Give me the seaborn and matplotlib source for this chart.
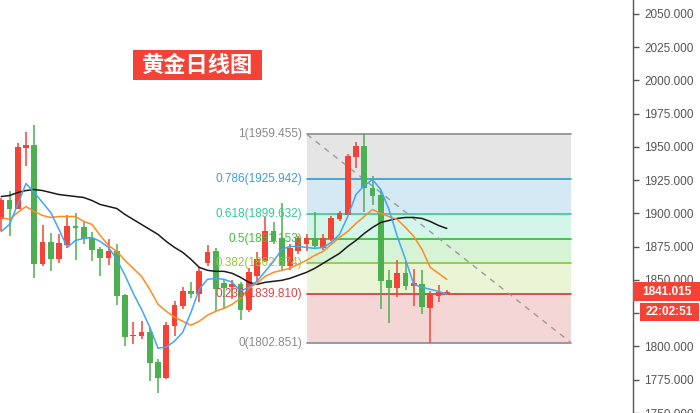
import numpy as np
import pandas as pd
import matplotlib
matplotlib.use('Agg')
import matplotlib.pyplot as plt
import seaborn as sns
from matplotlib.patches import Rectangle
from matplotlib.transforms import blended_transform_factory

# ---------------- data ----------------
opens = [1895.5, 1910.5, 1903, 1949.5, 1951.75, 1861.75, 1878.25, 1865.5, 1876, 1890.25,
         1889.5, 1881.25, 1873, 1866.25, 1871.5, 1838.5, 1807.75, 1807.75, 1810.75, 1788.25,
         1776.25, 1815.25, 1830.25, 1841.5, 1839.25, 1862.5, 1871.5, 1847.5, 1844.5, 1846.75,
         1827.25, 1852.75, 1864, 1886.5, 1881.25, 1860.25, 1871.5, 1876.75, 1881.25, 1873.75,
         1880.5, 1895.5, 1898.5, 1942.75, 1951, 1919.5, 1914.25, 1849.75, 1843.75, 1855,
         1845.25, 1846.75, 1828.75, 1837.75, 1840]
closes = [1910.5, 1903, 1950.25, 1951.75, 1861.75, 1878.25, 1865.5, 1877.5, 1890.25, 1888.75,
          1880.5, 1872.25, 1866.25, 1871.5, 1837.75, 1807, 1808.5, 1810.75, 1787.5, 1776.25,
          1816, 1831, 1841.5, 1839.25, 1856.5, 1870.75, 1843, 1843.75, 1846.75, 1827.25,
          1855.75, 1865.5, 1886.5, 1879, 1860.25, 1873.75, 1881.25, 1881.25, 1875.25, 1881.25,
          1896.25, 1900, 1943.5, 1951, 1919.5, 1913.5, 1849, 1843.75, 1855, 1845.25,
          1847.5, 1829.5, 1838.5, 1840.75, 1841.015]
highs = [1912, 1917.25, 1953.25, 1961.5, 1966.75, 1891, 1885, 1884.25, 1898.5, 1900,
         1893.25, 1885.75, 1874.5, 1880.5, 1876.75, 1839.25, 1818.25, 1819, 1814.5, 1790.5,
         1818.25, 1834, 1844.5, 1848.25, 1859.5, 1876, 1873.75, 1849.75, 1849.75, 1848.25,
         1858.75, 1870.75, 1897, 1893.25, 1908.25, 1876.75, 1882.75, 1884.25, 1900.75, 1884.25,
         1897.75, 1901.5, 1945, 1954, 1959.455, 1928.5, 1918, 1857.25, 1864.75, 1864,
         1858, 1857.25, 1841.5, 1846, 1842.25]
lows = [1886.5, 1882.75, 1903, 1936, 1851.25, 1860.25, 1856.5, 1862.5, 1873.75, 1864.75,
        1876.75, 1864, 1852.75, 1861, 1831, 1800.25, 1801.75, 1805.5, 1774, 1765,
        1775.5, 1807.75, 1828, 1836.25, 1833.25, 1860.25, 1826.5, 1828, 1835.5, 1819.75,
        1825.75, 1848.25, 1863.25, 1876.75, 1856.5, 1857.25, 1869.25, 1871.5, 1873.75, 1872.25,
        1879, 1894, 1898.5, 1934.5, 1900.75, 1906.75, 1828, 1817.5, 1837, 1842.25,
        1830.25, 1824.25, 1802.851, 1833.25, 1839.25]

ma5 = [1886.5, 1891.75, 1906.75, 1922.5, 1915.75, 1908.25, 1900.75, 1888, 1874.5, 1879.75,
       1881.25, 1882, 1879, 1874.5, 1865.5, 1853.5, 1840, 1828, 1814.5, 1798.75,
       1799.5, 1804, 1810.75, 1825.75, 1843, 1850.5, 1851.25, 1850.5, 1848.25, 1841.5,
       1844.5, 1849, 1856.5, 1864, 1873, 1875.25, 1875.25, 1874.5, 1873.75, 1874.5,
       1878.25, 1884.25, 1897.75, 1914.25, 1921, 1925.5, 1918, 1903, 1882.75, 1865.5,
       1846.75, 1844.5, 1843, 1841.5, 1839.25]
ma10 = [1897, 1895.5, 1900.75, 1905.25, 1901.5, 1898.5, 1897, 1897.75, 1897.75, 1897.75,
        1894, 1891.75, 1883.5, 1876, 1871.5, 1864.75, 1858.75, 1852.75, 1843, 1831.75,
        1826.5, 1822, 1819, 1816, 1819, 1823.5, 1826.5, 1828.75, 1831.75, 1836.25,
        1843.75, 1847.5, 1852.75, 1855.75, 1857.25, 1858.75, 1861.75, 1864.75, 1868.5, 1871.5,
        1876.75, 1882, 1886.5, 1892.5, 1897.75, 1903, 1900, 1897.75, 1895.5, 1889.5,
        1882.75, 1873, 1859.5, 1855, 1850.5]
ma20 = [1912.75, 1913.5, 1915.75, 1917.25, 1918, 1917.25, 1915.75, 1914.25, 1913.5, 1912.75,
        1912, 1909.75, 1906.75, 1905.25, 1903.75, 1899.25, 1895.5, 1891.75, 1888, 1884.25,
        1879, 1874.5, 1870.75, 1865.5, 1859.5, 1857.25, 1856.5, 1856.5, 1855, 1852,
        1848.25, 1846.75, 1848.25, 1849, 1849.75, 1851.25, 1853.5, 1855.75, 1858.75, 1862.5,
        1866.25, 1870, 1875.25, 1879.75, 1885, 1889.5, 1893.25, 1894.75, 1896.25, 1897,
        1897, 1896.25, 1894, 1891, 1888.75]

fib_ratios = ['1', '0.786', '0.618', '0.5', '0.382', '0.236', '0']
fib_prices = [1959.455, 1925.942, 1899.632, 1881.153, 1862.674, 1839.810, 1802.851]
y_ticks = [1750, 1775, 1800, 1825, 1850, 1875, 1900, 1925, 1950, 1975, 2000, 2025, 2050]
hidden_tick_labels = [1825]   # covered by the countdown box in the reference
last_price = 1841.015
countdown = '22:02:51'
title = '黄金日线图'

# ---------------- style ----------------
UP = '#f44336'
DOWN = '#4caf50'
fib_line_colors = ['#8a8a8a', '#2a9ad8', '#2ccf94', '#2bbd2b', '#8cc43e', '#d43434', '#8a8a8a']
fib_text_colors = ['#8a8a8a', '#3d9fd6', '#33c996', '#3dbf3d', '#9cc53c', '#d94444', '#8a8a8a']
fib_fill_colors = ['#e5e5e5', '#d5e9f5', '#d4f5ea', '#d6f3d5', '#eaf5d6', '#f5d6d6']

sns.set_theme(style='white')
plt.rcParams['font.family'] = ['Liberation Sans', 'DejaVu Sans']

fig = plt.figure(figsize=(7, 4.13), dpi=100)
ax = fig.add_axes([0, 0, 633 / 700, 1])

n = len(opens)
idx = np.arange(n)
df = pd.DataFrame({'i': idx, 'open': opens, 'close': closes, 'high': highs, 'low': lows,
                   'ma5': ma5, 'ma10': ma10, 'ma20': ma20})

# fib anchors (positions in bar units)
fx0, fx1 = 37.06, 69.06

# fib zones
for k in range(len(fib_prices) - 1):
    ax.fill_between([fx0, fx1], fib_prices[k + 1], fib_prices[k],
                    color=fib_fill_colors[k], lw=0, zorder=0.5)
for k, (r, p) in enumerate(zip(fib_ratios, fib_prices)):
    ax.plot([fx0, fx1], [p, p], color=fib_line_colors[k], lw=1.2, zorder=0.8)
    ax.annotate(f'{r}({p:.3f})', xy=(fx0, p), xytext=(-5, 0), textcoords='offset pixels',
                ha='right', va='center', fontsize=8.5, color=fib_text_colors[k], zorder=5)
ax.plot([fx0, fx1], [fib_prices[0], fib_prices[-1]], color='#9a9a9a', lw=1,
        ls=(0, (4, 4)), zorder=0.9)

# candles
colors = [UP if c >= o else DOWN for o, c in zip(opens, closes)]
ax.vlines(idx, df['low'], df['high'], colors=colors, lw=1.1, zorder=2)
bottoms = np.minimum(df['open'], df['close'])
heights = np.maximum(np.abs(df['close'] - df['open']), 0.7)
ax.bar(idx, heights, bottom=bottoms, width=0.68, color=colors, lw=0, zorder=3)

# moving averages
sns.lineplot(data=df, x='i', y='ma20', color='#1a1a1a', lw=1.1, ax=ax, zorder=4)
sns.lineplot(data=df, x='i', y='ma10', color='#ff8a1f', lw=1.1, ax=ax, zorder=4)
sns.lineplot(data=df, x='i', y='ma5', color='#42a5f5', lw=1.1, ax=ax, zorder=4)

# axes
ax.set_xlim(-1.25 / 8.25, (633 - 1.25) / 8.25)
ax.set_ylim(1750.75, 2060.5)
ax.set_xlabel('')
ax.set_ylabel('')
ax.set_xticks([])
ax.yaxis.tick_right()
ax.set_yticks(y_ticks)
ax.set_yticklabels(['' if v in hidden_tick_labels else f'{v:.3f}' for v in y_ticks])
ax.tick_params(axis='y', direction='out', length=4, width=1, color='#555555', pad=4,
               labelsize=8.5, labelcolor='#555555', right=True, left=False)
for s in ['top', 'left', 'bottom']:
    ax.spines[s].set_visible(False)
ax.spines['right'].set_color('#555555')
ax.spines['right'].set_linewidth(1)
ax.set_facecolor('white')

# title box
fig.add_artist(Rectangle((133 / 700, 1 - 80 / 413), 129 / 700, 30 / 413,
                         transform=fig.transFigure, color='#f44336', lw=0))
fig.text(197.5 / 700, 1 - 65.5 / 413, title, fontsize=16, fontweight='bold', color='white',
         family=['Noto Sans CJK SC', 'DejaVu Sans'], ha='center', va='center')

# last price box
bt = blended_transform_factory(fig.transFigure, ax.transData)
fig.add_artist(Rectangle((633 / 700, last_price - 7.1), 67 / 700, 14.2, transform=bt,
                         color='#f44336', lw=0, zorder=6))
fig.text(667 / 700, last_price, f'{last_price:.3f}', transform=bt, fontsize=8.5,
         fontweight='bold', color='white', ha='center', va='center', zorder=7)
fig.add_artist(Rectangle((640 / 700, 1 - 321 / 413), 59 / 700, 18 / 413,
                         transform=fig.transFigure, color='#f44336', lw=0, zorder=6))
fig.text(669.5 / 700, 1 - 312 / 413, countdown, fontsize=8.5, fontweight='bold',
         color='white', ha='center', va='center', zorder=7)

fig.savefig('out.png', dpi=100, facecolor='white')
